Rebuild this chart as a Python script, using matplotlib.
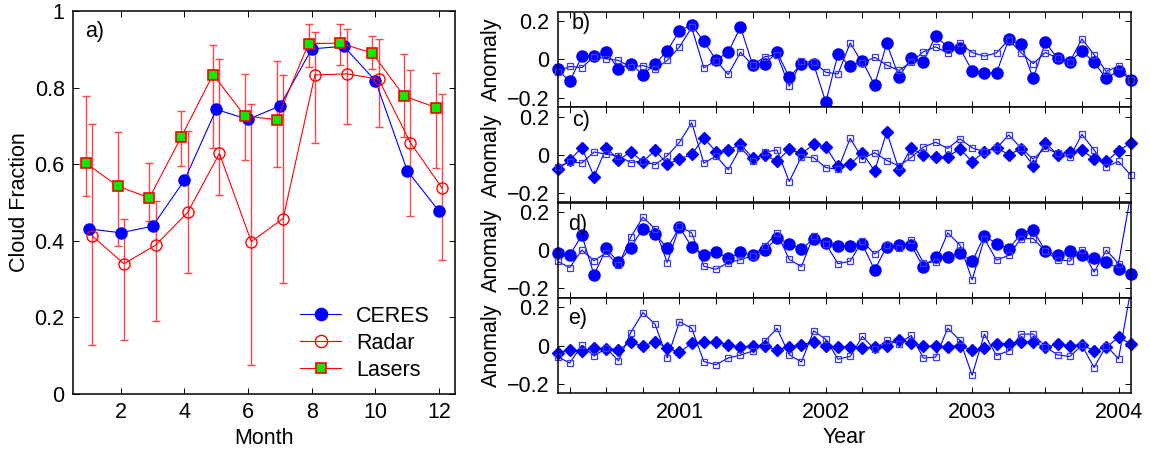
import numpy as np
import matplotlib
matplotlib.use("Agg")
import matplotlib.pyplot as plt
from matplotlib.ticker import FixedLocator, FuncFormatter

plt.rcParams['font.family'] = ['Liberation Sans', 'DejaVu Sans']
plt.rcParams['font.size'] = 15.5
plt.rcParams['axes.unicode_minus'] = True

# ---------------- panel a data ----------------
months = np.arange(1, 13)
ceres = [0.431, 0.421, 0.438, 0.558, 0.743, 0.717, 0.752, 0.901, 0.908, 0.818, 0.583, 0.477]
radar = [0.413, 0.340, 0.389, 0.474, 0.628, 0.398, 0.458, 0.833, 0.836, 0.822, 0.656, 0.537]
radar_hi = [0.706, 0.456, 0.505, 0.687, 0.875, 0.757, 0.834, 0.945, 0.952, 0.926, 0.845, 0.783]
radar_lo = [0.127, 0.142, 0.190, 0.315, 0.519, 0.076, 0.289, 0.656, 0.705, 0.698, 0.466, 0.350]
lasers = [0.603, 0.543, 0.512, 0.671, 0.834, 0.726, 0.716, 0.915, 0.916, 0.890, 0.778, 0.748]
lasers_hi = [0.779, 0.685, 0.604, 0.738, 0.910, 0.836, 0.869, 0.965, 0.967, 0.936, 0.887, 0.838]
lasers_lo = [0.516, 0.387, 0.452, 0.596, 0.641, 0.612, 0.593, 0.855, 0.860, 0.848, 0.671, 0.589]

# ---------------- panels b-e data (monthly, Mar 2000 - Feb 2004) ----------------
start_year, start_month, n_months = 2000, 3, 48
b_circ = [-0.051, -0.115, 0.016, 0.019, 0.037, -0.049, -0.024, -0.080, -0.024, 0.045,
          0.150, 0.182, 0.094, -0.002, 0.037, 0.170, -0.028, -0.024, 0.038, -0.094,
          -0.024, -0.024, -0.224, 0.028, -0.037, -0.010, -0.133, 0.084, -0.093, 0.007,
          -0.014, 0.124, 0.063, 0.058, -0.060, -0.072, -0.070, 0.105, 0.079, -0.100,
          0.089, 0.005, -0.012, 0.045, -0.016, -0.100, -0.059, -0.108]
sq_bc = [-0.065, -0.037, -0.043, 0.015, 0.003, -0.005, -0.041, -0.032, -0.052, -0.005,
         0.065, 0.168, -0.044, -0.006, -0.079, 0.037, -0.030, 0.014, 0.025, -0.140,
         -0.010, -0.015, -0.067, -0.076, 0.086, -0.020, 0.011, -0.030, -0.058, -0.014,
         0.040, 0.066, 0.033, 0.084, 0.036, 0.017, 0.034, 0.104, 0.036, -0.022,
         0.036, 0.007, -0.013, 0.107, 0.025, -0.063, -0.035, -0.106]
c_diam = [-0.077, -0.028, 0.038, -0.115, 0.038, -0.028, 0.016, -0.037, 0.024, -0.049,
          -0.023, 0.002, 0.089, 0.016, 0.024, 0.054, -0.016, -0.002, -0.033, 0.028,
          0.007, 0.054, 0.042, -0.059, -0.049, 0.010, -0.085, 0.120, -0.080, 0.036,
          -0.002, -0.014, -0.010, 0.031, -0.036, 0.017, 0.038, 0.000, 0.031, -0.057,
          0.064, 0.000, 0.017, 0.023, -0.021, -0.035, 0.021, 0.061]
d_circ = [-0.017, -0.026, 0.078, -0.130, 0.009, -0.064, 0.014, 0.113, 0.087, 0.010,
          0.122, 0.017, -0.024, -0.007, -0.043, -0.012, -0.026, 0.002, 0.063, 0.035,
          0.005, 0.061, 0.037, 0.023, 0.023, 0.031, -0.103, 0.019, 0.028, 0.026,
          -0.090, -0.035, -0.038, -0.015, -0.059, 0.075, 0.035, 0.007, 0.085, 0.108,
          -0.005, -0.026, -0.005, -0.023, -0.043, -0.061, -0.096, -0.127]
sq_de = [-0.058, -0.091, 0.001, -0.055, -0.013, -0.080, 0.068, 0.173, 0.112, -0.065,
         0.125, 0.091, -0.084, -0.100, -0.065, -0.050, -0.028, 0.023, 0.090, -0.048,
         -0.086, 0.077, 0.033, -0.071, -0.057, 0.048, -0.020, 0.028, 0.011, 0.053,
         -0.065, -0.061, 0.091, 0.027, -0.155, 0.060, -0.052, -0.027, 0.060, 0.061,
         -0.005, -0.049, -0.057, 0.001, -0.115, 0.000, -0.070, 0.290]
e_diam = [-0.038, -0.023, -0.030, -0.012, -0.017, -0.021, 0.017, -0.003, 0.021, -0.014,
          -0.035, 0.012, 0.017, 0.021, 0.003, -0.009, 0.000, -0.003, -0.023, -0.005,
          0.003, 0.021, 0.000, -0.009, -0.005, -0.014, -0.005, 0.000, 0.030, 0.014,
          -0.003, -0.003, -0.005, 0.000, -0.025, -0.012, 0.009, 0.009, 0.021, 0.017,
          -0.009, 0.007, 0.000, 0.003, -0.026, -0.009, 0.043, 0.009]
year_labels = [2001, 2002, 2003, 2004]
panel_labels = ['b)', 'c)', 'd)', 'e)']

t = start_year + (start_month - 1 + np.arange(n_months)) / 12.0

BLUE = '#0000ff'
RED = '#ff0000'
ERR = '#ff4545'
YLIM = (-0.25, 0.25)

W, H = 1150, 453
fig = plt.figure(figsize=(W / 100, H / 100), dpi=100)


def fr(x0, y0, x1, y1):
    return [x0 / W, 1 - y1 / H, (x1 - x0) / W, (y1 - y0) / H]


def style(ax):
    ax.tick_params(direction='in', top=True, right=True, length=4, width=0.7, pad=6)
    for s in ax.spines.values():
        s.set_linewidth(1.1)
        s.set_zorder(6)


# ---------------- panel a ----------------
ax = fig.add_axes(fr(73, 11, 455, 394))
off = 0.1
ax.plot(months, ceres, '-o', color=BLUE, lw=0.8, ms=8, mfc=BLUE, mec=BLUE,
        label='CERES', zorder=3)
r = np.array(radar)
ax.errorbar(months + off, r, yerr=[r - np.array(radar_lo), np.array(radar_hi) - r],
            fmt='none', ecolor=ERR, elinewidth=1.0, capsize=3, capthick=1.0, zorder=2)
ax.plot(months + off, radar, '-o', color=RED, lw=0.8, ms=8, mfc='none', mec=RED,
        mew=1.0, label='Radar', zorder=4)
l = np.array(lasers)
ax.errorbar(months - off, l, yerr=[l - np.array(lasers_lo), np.array(lasers_hi) - l],
            fmt='none', ecolor=ERR, elinewidth=1.0, capsize=3, capthick=1.0, zorder=2)
ax.plot(months - off, lasers, '-s', color=RED, lw=0.8, ms=6.5, mfc='#00ee00', mec=RED,
        mew=1.2, label='Lasers', zorder=5)
ax.set_xlim(0.5, 12.5)
ax.set_ylim(0, 1)
ax.set_xticks([2, 4, 6, 8, 10, 12])
ax.set_yticks([0, 0.2, 0.4, 0.6, 0.8, 1.0])
ax.yaxis.set_major_formatter(FuncFormatter(lambda v, p: '%g' % v))
ax.set_xlabel('Month', labelpad=3)
ax.set_ylabel('Cloud Fraction', labelpad=3)
style(ax)
ax.text(0.031, 0.946, 'a)', transform=ax.transAxes, ha='left', va='center')
leg = ax.legend(loc='lower left', bbox_to_anchor=(0.595, 0.035), frameon=False,
                handlelength=1.9, handletextpad=0.7, labelspacing=0.28, borderpad=0,
                borderaxespad=0, markerscale=1.1)

# ---------------- panels b-e ----------------
top, bot = 11.7, 393.3
ph = (bot - top) / 4
series = [(b_circ, 'o', sq_bc), (c_diam, 'D', sq_bc), (d_circ, 'o', sq_de), (e_diam, 'D', sq_de)]
xt = np.arange(2000.25, 2004.01, 0.25)
lab_y = [0.88, 0.86, 0.77, 0.78]
for k, (main, mk, sq) in enumerate(series):
    y0 = top + k * ph
    a = fig.add_axes(fr(557.5, y0, 1130.7, y0 + ph))
    if mk == 'o':
        a.plot(t, main, '-o', color=BLUE, lw=0.8, ms=8, mfc=BLUE, mec=BLUE, zorder=3,
               clip_on=False)
    else:
        a.plot(t, main, '-D', color=BLUE, lw=0.8, ms=6, mfc=BLUE, mec=BLUE, zorder=3,
               clip_on=False)
    sqa = np.array(sq)
    a.plot(t, sqa, '-', color=BLUE, lw=0.8, zorder=4)
    inside = (sqa >= YLIM[0]) & (sqa <= YLIM[1])
    a.plot(t[inside], sqa[inside], 's', ms=5, mfc='none', mec='#3a3aff', mew=0.9,
           zorder=4, clip_on=False)
    a.set_xlim(t[0], t[-1])
    a.set_ylim(*YLIM)
    a.set_yticks([-0.2, 0, 0.2])
    a.yaxis.set_major_formatter(FuncFormatter(
        lambda v, p: '0' if abs(v) < 1e-9 else ('%.1f' % v).replace('-', '\u2212')))
    a.xaxis.set_major_locator(FixedLocator(xt))
    if k == 3:
        a.xaxis.set_major_formatter(FuncFormatter(
            lambda v, p: '%d' % round(v) if round(v) in year_labels and abs(v - round(v)) < 1e-6 else ''))
        a.set_xlabel('Year', labelpad=3)
    else:
        a.set_xticklabels([])
    a.set_ylabel('Anomaly', labelpad=3)
    style(a)
    a.text(0.025 if k < 2 else 0.018, lab_y[k], panel_labels[k], transform=a.transAxes,
           ha='left', va='center', zorder=7)

fig.savefig('out.png', dpi=100)
